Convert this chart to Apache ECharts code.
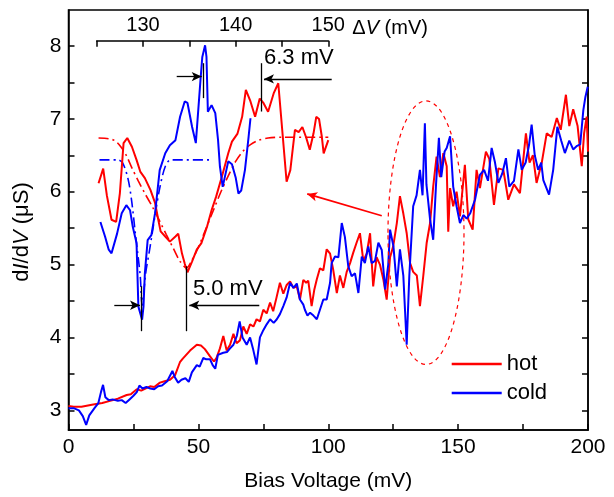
<!DOCTYPE html>
<html><head><meta charset="utf-8">
<script src="https://cdn.jsdelivr.net/npm/echarts@6.0.0/dist/echarts.min.js"></script>
<style>html,body{margin:0;padding:0;background:#fff}#c{width:614px;height:497px}</style>
</head><body><div id="c"></div>
<script>
// ---- main curves (Bias Voltage mV, dI/dV uS) ----
const hotV = [0,2,5,9.5,13,16,19,22.4,24,26.3,28,31.4,33,35.2,37,39.1,41,42.9,44,46.8,49.4,51,52.5,54.5,56,57,58.3,59.6,60.9,62.2,63.5,64.7,66,67.3,68.6,69.9,71.2,72.4,73.7,75,76.3,77.6,78.8,80.1,81.4,82.7,84,85.3,86.6,87.9,89.1,90.4,91.5,92.3,93.6,94.6,95.6,96.8,98.1,99.4,100.7,101.9,103.3,104.5,105.8,107.1,108.4,109.6,110.9,112.2,113.5,114.8,116.1,117.3,118.6,119.9,121.2,122.5,123.8,125,126.4,127.6,128.9,130.2,131.5,132.7,134.1,135.3,136.6,137.9,139.2,140.4,141.7,143,144.3,145.6,146.2,146.9,148.1,149.4,150.7,152.6,153.9,155.6,157.1,158.4,160.7,162,163.8,165.5,167.4,169.3,171.5,173.8,176.1,177.5,178.8,180.2,182.2,184.1,186,188,189.5,191.5,192.8,194.3,196,197.6,198.5,199.5,200];
const hotG = [3.06,3.05,3.05,3.08,3.10,3.13,3.16,3.21,3.22,3.29,3.27,3.33,3.32,3.38,3.40,3.42,3.48,3.66,3.71,3.82,3.90,3.89,3.84,3.74,3.67,3.72,3.85,4.02,3.82,3.90,4.05,3.92,3.96,4.15,4.05,4.18,4.15,4.25,4.22,4.38,4.33,4.48,4.36,4.55,4.75,4.60,4.72,4.77,4.68,4.70,4.52,4.79,4.75,4.78,4.43,4.65,4.80,4.95,4.92,5.21,5.15,4.93,4.61,4.85,4.68,4.90,5.02,5.16,5.30,5.43,5.05,5.15,5.43,4.70,5.10,5.00,4.80,4.52,5.10,5.25,5.57,5.94,5.70,5.43,5.02,4.90,4.85,4.43,4.85,5.30,5.57,6.07,6.48,6.20,6.53,6.35,5.45,6.05,5.80,6.00,5.66,6.37,5.62,5.48,6.30,6.05,6.55,6.45,5.82,6.32,6.30,5.89,6.10,5.98,6.80,6.40,6.50,6.12,6.40,6.80,6.75,7.01,6.85,7.33,6.90,7.13,6.90,6.35,6.80,7.03,6.55];
const coldV = [0,2,4,5.5,6.8,8,10,11.5,12.5,13.3,14.2,15.5,17,19,20.5,22,23.5,25,26.3,27.3,28.5,30,31.5,33,34.5,36,38,40,41,42.2,43.5,45,46.3,47.5,49.4,50.5,51.9,53,54.5,55.5,56.5,57.5,59.6,61,62.2,63.5,64.8,65.9,67,68.6,69.9,71,72.4,73.7,75,76.3,77.6,79,80.2,81.4,82.7,84,85.3,86.6,87.9,89.1,90.4,91,92,93,94.3,95.6,96.8,98.1,99.4,100.7,101.3,102.6,103.9,105.2,106.4,107.7,109,110.3,111.6,112.9,114.1,115.4,116.7,118,119.3,120.6,121.9,123.1,123.8,125.1,126.4,127.6,128.9,130.2,131.2,132.7,134,135.3,136.3,137.2,137.8,139.2,140.4,141.5,142.6,143.5,144.8,145.6,146.9,148.1,149.4,150.7,152,153.3,154.6,156.5,158.4,160,161.5,162.9,164.2,165.5,167,168.4,169.7,171.5,173.2,174.5,176,177.3,178.3,179.5,180.8,182,182.8,185,186.6,188.2,189.7,191.1,192.8,194.3,195.8,197,198.2,199,199.9];
const coldG = [3.03,3.03,3.00,2.92,2.80,2.93,3.03,3.10,3.25,3.35,3.18,3.14,3.15,3.13,3.14,3.10,3.15,3.20,3.25,3.34,3.30,3.32,3.30,3.29,3.33,3.34,3.40,3.54,3.45,3.38,3.42,3.44,3.39,3.52,3.62,3.60,3.72,3.70,3.70,3.62,3.57,3.76,3.79,3.80,3.85,3.90,4.02,4.22,4.00,3.90,4.00,3.85,3.63,4.00,4.10,4.18,4.25,4.20,4.25,4.32,4.43,4.55,4.75,4.68,4.74,4.52,4.45,4.38,4.30,4.34,4.30,4.25,4.38,4.52,4.52,4.75,5.02,5.11,5.10,5.57,5.38,4.98,4.84,4.88,4.61,5.11,5.02,5.25,5.02,5.05,5.30,5.20,4.66,5.00,5.48,5.25,4.70,5.21,4.85,3.90,4.84,5.80,5.95,6.30,5.95,6.94,6.10,5.62,5.34,6.10,6.74,6.20,6.55,6.60,6.76,6.07,5.80,5.57,5.68,5.63,5.70,5.89,6.23,6.30,6.15,6.60,6.40,6.12,6.25,6.46,6.07,6.15,6.58,6.30,6.40,6.64,6.92,6.50,6.30,6.40,6.16,5.96,6.30,6.89,6.70,6.53,6.70,6.58,6.63,6.65,7.12,7.30,7.44];
// ---- inset curves (Delta V mV) ----
const insetHotV = [125.2,125.7,126.1,126.6,127.1,127.5,127.9,128.3,128.8,129.3,129.7,130.2,130.8,131.3,131.6,131.9,132.4,132.9,133.5,133.8,134.2,134.5,134.8,135.3,135.8,136.3,136.9,137.4,137.9,138.6,139.2,139.6,140.2,140.7,141.1,141.6,142.1,142.6,143.0,143.5,144.1,144.6,145.0,145.5,145.9,146.4,146.8,147.2,147.6,148.0,148.4,148.7,149.0,149.3,149.5,150.0];
const insetHotG = [6.12,6.32,5.95,5.62,5.59,5.98,6.67,6.74,6.62,6.44,6.28,6.19,6.03,5.85,5.65,5.46,5.39,5.32,5.39,5.43,5.16,5.02,4.90,5.05,5.21,5.30,5.52,5.75,5.94,6.25,6.53,6.69,6.80,7.03,7.40,7.24,7.03,7.28,7.22,7.10,7.35,7.49,6.89,6.14,6.30,6.85,6.82,6.89,6.75,6.58,6.80,7.03,7.00,6.76,6.53,6.71];
const insetColdV = [125.4,125.9,126.3,126.6,127.2,127.7,128.2,128.6,128.9,129.3,129.5,129.9,130.05,130.2,130.5,130.9,131.3,131.8,132.4,132.9,133.5,134.0,134.5,134.8,135.3,135.7,135.9,136.2,136.4,136.7,136.85,137.0,137.4,137.8,138.1,138.3,138.6,138.8,139.2,139.6,140.0,140.3,140.6,141.0,141.4,141.6];
const insetColdG = [5.59,5.39,5.21,5.16,5.43,5.71,5.82,5.75,5.52,5.30,4.43,4.25,4.43,4.89,5.34,5.41,5.71,6.30,6.53,6.64,6.71,7.03,7.24,7.22,6.89,6.67,6.69,7.53,7.85,8.01,7.85,7.10,7.19,7.08,6.71,6.35,6.07,6.05,6.42,6.38,6.20,5.98,6.02,6.30,6.76,7.01];
const fitHotV = [125.2,126.3,127.0,127.6,128.2,128.8,129.5,130.2,131.0,131.8,132.5,133.3,134.0,134.7,135.3,136.0,136.8,137.6,138.4,139.2,140.0,140.8,141.6,142.5,143.5,145,150];
const fitHotG = [6.74,6.73,6.70,6.62,6.50,6.33,6.15,5.98,5.80,5.60,5.42,5.22,5.05,4.96,5.07,5.25,5.50,5.75,6.00,6.22,6.42,6.56,6.65,6.71,6.74,6.75,6.75];
const fitColdV = [125.3,127.3,127.8,128.4,128.8,129.2,129.7,129.9,130.3,130.7,131.3,131.8,132.4,133.0,137.2];
const fitColdG = [6.44,6.44,6.40,6.17,5.85,5.40,4.85,4.45,4.90,5.20,5.68,6.05,6.35,6.44,6.44];
// ---- axes ticks ----
const xLabels = [0,50,100,150,200];
const yTicks = [3,3.5,4,4.5,5,5.5,6,6.5,7,7.5,8];
const yLabels = [3,4,5,6,7,8];
const insetLabels = [130,140,150];
const legendNames = ['hot','cold'];
const txt5 = '5.0 mV', txt63 = '6.3 mV';

const FONT = '"Liberation Sans", Arial, Helvetica, sans-serif';
const Y0 = 2.7301, Y1 = 8.4932, Y1i = 8.0726;
const zip = (a,b) => a.map((v,i)=>[v,b[i]]);
const axLine = {show:true, onZero:false, lineStyle:{color:'#000', width:1.5}};
const tick = {show:true, inside:true, length:6, lineStyle:{color:'#000', width:1.5}};
const lbl = {color:'#000', fontSize:21, fontFamily:FONT};
const BLK = {color:'#000', width:1.3, type:'solid'};
const seg = (a,b,arrow) => [{coord:a, lineStyle:BLK}, Object.assign({coord:b, lineStyle:BLK}, arrow?{symbol:'arrow', symbolSize:[7,10]}:{})];

const chart = echarts.init(document.getElementById('c'), null, {renderer:'canvas'});
const option = {
  animation:false,
  backgroundColor:'#fff',
  grid:[
    {left:68.5, right:26, top:10, bottom:66.3, show:true, borderColor:'#000', borderWidth:1.5, backgroundColor:'transparent'},
    {left:96.7, right:285.7, top:40.7, bottom:66.3}
  ],
  xAxis:[
    {gridIndex:0, type:'value', min:0, max:200, interval:25, axisLine:axLine, axisTick:tick,
     axisLabel:Object.assign({customValues:xLabels, margin:7}, lbl), splitLine:{show:false},
     name:'Bias Voltage (mV)', nameLocation:'middle', nameGap:41, nameTextStyle:{color:'#000', fontSize:21, fontFamily:FONT}},
    {gridIndex:1, type:'value', position:'top', min:125, max:150, interval:5, axisLine:axLine, axisTick:tick,
     axisLabel:Object.assign({customValues:insetLabels, margin:5}, lbl, {fontSize:20}), splitLine:{show:false}}
  ],
  yAxis:[
    {gridIndex:0, type:'value', min:Y0, max:Y1, axisLine:axLine, axisTick:Object.assign({customValues:yTicks}, tick),
     axisLabel:Object.assign({customValues:yLabels, margin:7}, lbl), splitLine:{show:false}},
    {gridIndex:0, type:'value', position:'right', min:Y0, max:Y1, axisLine:axLine, axisTick:Object.assign({customValues:yTicks}, tick),
     axisLabel:{show:false}, splitLine:{show:false}},
    {gridIndex:1, type:'value', min:Y0, max:Y1i, show:false}
  ],
  legend:{data:legendNames, orient:'vertical', left:451.7, top:353, padding:0, icon:'rect', itemWidth:50, itemHeight:2.5, itemGap:7,
    selectedMode:false, textStyle:{color:'#000', fontSize:22, fontFamily:FONT}},
  series:[
    {name:'hot', type:'line', xAxisIndex:0, yAxisIndex:0, data:zip(hotV,hotG), showSymbol:false, silent:true,
     color:'#ff0000', lineStyle:{color:'#ff0000', width:2}, z:2,
     markLine:{silent:true, animation:false, symbol:['none','none'], label:{show:false}, lineStyle:BLK,
       data:[
         seg([28.18,4.703],[28.18,4.086]),
         seg([17.63,4.442],[27.53,4.442],true),
         seg([45.51,4.977],[45.51,4.086]),
         seg([73.45,4.442],[46.51,4.442],true),
         seg([51.90,7.763],[51.90,7.284]),
         seg([41.66,7.579],[51.28,7.579],true),
         seg([74.38,7.763],[74.38,7.100]),
         seg([101.33,7.548],[75.26,7.548],true),
         [{coord:[120.6,5.67], lineStyle:{color:'#ff0000', width:1.8, curveness:-0.2}},
          {coord:[91.9,5.97], symbol:'arrow', symbolSize:[7,10], lineStyle:{color:'#ff0000', width:1.8, curveness:-0.2}}]
       ]}},
    {name:'cold', type:'line', xAxisIndex:0, yAxisIndex:0, data:zip(coldV,coldG), showSymbol:false, silent:true,
     color:'#0000ff', lineStyle:{color:'#0000ff', width:2}, z:3},
    {name:'hotFit', type:'line', xAxisIndex:1, yAxisIndex:2, data:zip(fitHotV,fitHotG), showSymbol:false, silent:true, smooth:0.3,
     lineStyle:{color:'#ff0000', width:1.6, type:[10,4,2,4]}, z:2},
    {name:'coldFit', type:'line', xAxisIndex:1, yAxisIndex:2, data:zip(fitColdV,fitColdG), showSymbol:false, silent:true, smooth:0.3,
     lineStyle:{color:'#0000ff', width:1.6, type:[10,4,2,4]}, z:2},
    {name:'hotInset', type:'line', xAxisIndex:1, yAxisIndex:2, data:zip(insetHotV,insetHotG), showSymbol:false, silent:true,
     lineStyle:{color:'#ff0000', width:2}, z:3},
    {name:'coldInset', type:'line', xAxisIndex:1, yAxisIndex:2, data:zip(insetColdV,insetColdG), showSymbol:false, silent:true,
     lineStyle:{color:'#0000ff', width:2}, z:4}
  ]
};
chart.setOption(option);

const P = (x,y) => chart.convertToPixel({xAxisIndex:0, yAxisIndex:0}, [x,y]);
const c = P(137.63, 5.438), rxp = P(137.63+14.63, 5.438), ryp = P(137.63, 5.438+1.808);
const t5 = P(47.9, 4.66), t63 = P(75.26, 7.83);
const iEnd = chart.convertToPixel({xAxisIndex:1, yAxisIndex:2}, [150, Y1i]);
chart.setOption({graphic:[
  {type:'ellipse', silent:true, shape:{cx:c[0], cy:c[1], rx:rxp[0]-c[0], ry:c[1]-ryp[1]},
   style:{fill:'none', stroke:'#ff0000', lineWidth:1.2, lineDash:[4,4]}, z:10},
  {type:'text', x:t5[0], y:t5[1], style:{text:txt5, fill:'#000', font:'22px '+FONT, align:'left', verticalAlign:'middle'}},
  {type:'text', x:t63[0], y:t63[1], style:{text:txt63, fill:'#000', font:'22px '+FONT, align:'left', verticalAlign:'middle'}},
  {type:'text', x:iEnd[0]+24, y:iEnd[1]-12.5, style:{text:'Δ{i|V} (mV)', fill:'#000', font:'20px '+FONT, align:'left', verticalAlign:'middle',
     rich:{i:{fontStyle:'italic', fontSize:20, fontFamily:FONT, fill:'#000'}}}},
  {type:'text', x:22, y:232, rotation:Math.PI/2, style:{text:'d{i|I}/d{i|V} (μS)', fill:'#000', font:'22px '+FONT, align:'center', verticalAlign:'middle',
     rich:{i:{fontStyle:'italic', fontSize:22, fontFamily:FONT, fill:'#000'}}}}
]});
</script></body></html>
